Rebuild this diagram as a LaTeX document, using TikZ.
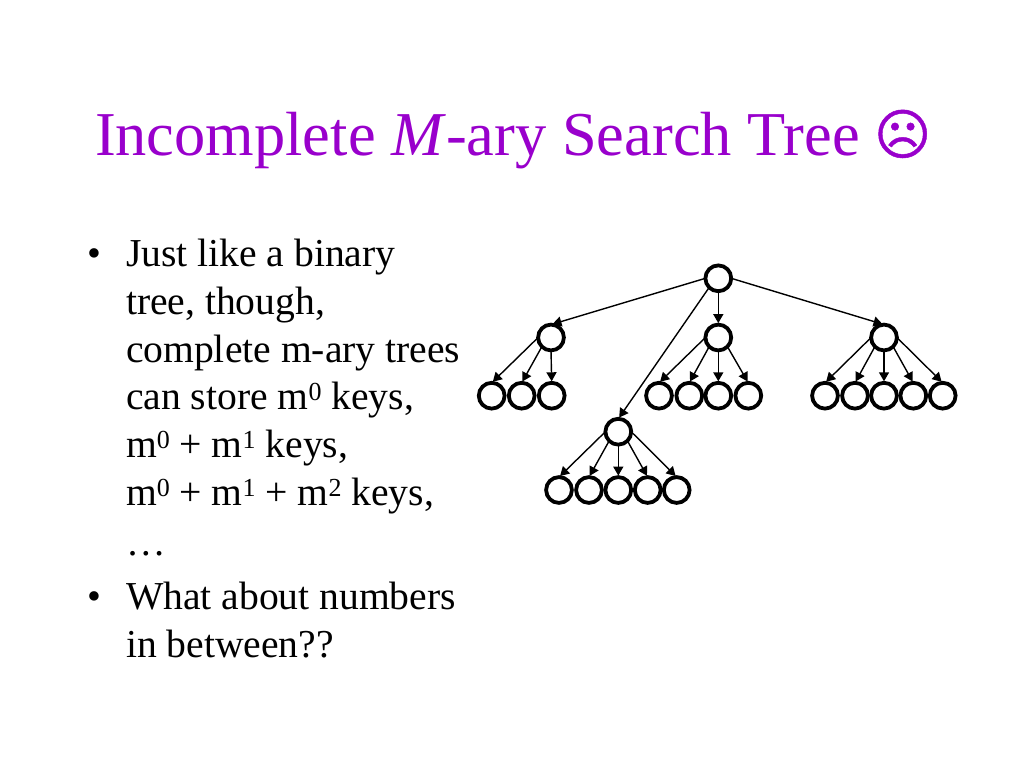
\documentclass[tikz,border=0pt]{standalone}
\usepackage{fontspec}
\setmainfont{Liberation Serif}
\newfontfamily\symfont[AutoFakeBold=0.8]{DejaVu Sans}
\usetikzlibrary{arrows.meta}
\definecolor{titlepurple}{RGB}{153,0,204}
\newcommand{\upidx}[1]{\raisebox{0.22em}{\fontsize{26}{26}\selectfont #1}}
\tikzset{
  x=1pt,y=-1pt,
  treenode/.style={circle,draw=black,line width=3.8pt,fill=white,minimum size=25.8pt,inner sep=0pt,outer sep=0pt},
  treeedge/.style={draw=black,line width=1.4pt,-{Triangle[length=9pt,width=10pt]},shorten >=1.5pt},
  bodyline/.style={anchor=base west,inner sep=0pt,outer sep=0pt,font=\fontsize{39.6}{40}\selectfont},
  titleline/.style={anchor=base west,inner sep=0pt,outer sep=0pt,text=titlepurple,font=\fontsize{62.4}{62}\selectfont}
}
\begin{document}
\begin{tikzpicture}
\useasboundingbox (0,0) rectangle (1024,768);
\fill[white] (0,0) rectangle (1024,768);
% title
\node[titleline] (title) at (95,155) {Incomplete \textit{M}-ary Search Tree};
\node[titleline,font=\symfont\bfseries\fontsize{55}{55}\selectfont] (face) at (874,154) {☹};
% bullets
\node[bodyline] (b1) at (87,266) {•};
\node[bodyline] (b2) at (87,609) {•};
% body
\node[bodyline] (l1) at (126,266) {Just like a binary};
\node[bodyline] (l2) at (126,314) {tree, though,};
\node[bodyline] (l3) at (126,362) {complete m-ary trees};
\node[bodyline] (l4) at (126,409.5) {can store m\upidx{0} keys,};
\node[bodyline] (l5) at (126,457.5) {m\upidx{0} + m\upidx{1} keys,};
\node[bodyline] (l6) at (126,505.3) {m\upidx{0} + m\upidx{1} + m\upidx{2} keys,};
\node[bodyline] (l7) at (126,555) {…};
\node[bodyline] (l8) at (126,609) {What about numbers};
\node[bodyline] (l9) at (126,657) {in between??};
% tree nodes
\node[treenode] (r) at (718.3,278.3) {};
\node[treenode] (a) at (551,337.5) {};
\node[treenode] (b) at (718.3,337.5) {};
\node[treenode] (c) at (884,337.5) {};
\node[treenode] (d) at (618.3,431.7) {};
\foreach \n/\x in {a1/491.7,a2/521.7,a3/551.7,b1x/659,b2x/689.3,b3x/718.3,b4x/748.3,c1/825,c2/855,c3/884,c4/913.3,c5/942.7}
  \node[treenode] (\n) at (\x,395.7) {};
\foreach \n/\x in {d1/559,d2/589,d3/618.3,d4/647.7,d5/676.7}
  \node[treenode] (\n) at (\x,490) {};
% edges
\foreach \s/\t in {r.west/a,r.south/b,r.east/c,r.south west/d,
  a.west/a1,a.south west/a2,a.south/a3,
  b.west/b1x,b.south west/b2x,b.south/b3x,b.south east/b4x,
  c.west/c1,c.south west/c2,c.south/c3,c.south east/c4,c.east/c5,
  d.west/d1,d.south west/d2,d.south/d3,d.south east/d4,d.east/d5}
  \draw[treeedge] (\s) -- (\t.north);
\end{tikzpicture}
\end{document}
